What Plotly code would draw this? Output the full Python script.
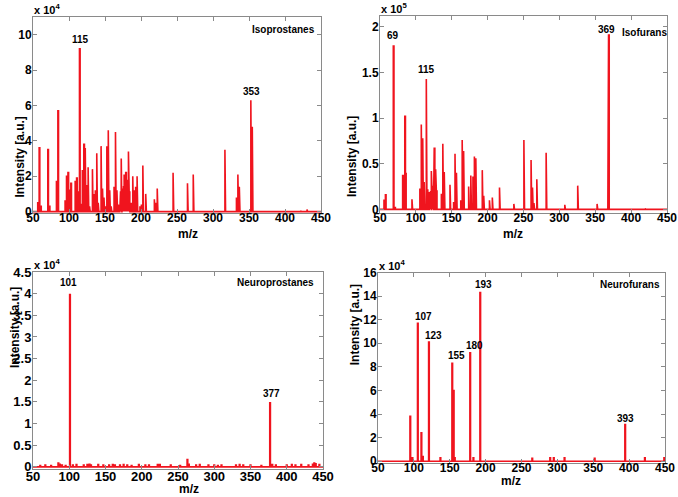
import plotly.graph_objects as go

# ---------------- data (intensities in units of the axis multiplier) ----------------
iso_p_mz = [57, 59, 61, 71, 73, 83, 85, 95, 97, 99, 101, 103, 109, 111, 113, 115, 117, 119, 121, 122,
            123, 125, 127, 129, 133, 135, 137, 139, 141, 145, 147, 149, 151, 153, 155, 157, 159, 163,
            165, 167, 169, 171, 172, 173, 174, 174.8, 175.5, 176.2, 177, 177.8, 178.5, 179.2, 180,
            180.8, 181.5, 182.2, 183, 184, 185, 187, 189, 191, 193, 195, 199, 201, 203, 207, 219, 221,
            223, 245, 265, 273, 317, 333, 335, 337, 353, 355, 422, 431]
iso_p_int = [0.5, 3.6, 0.3, 3.5, 0.3, 1.7, 5.7, 0.6, 2.0, 2.2, 1.2, 1.6, 1.7, 1.9, 1.1, 9.2, 0.4, 2.3,
             3.8, 1.4, 3.6, 1.5, 2.5, 0.3, 2.4, 1.0, 1.2, 3.3, 0.5, 3.7, 1.3, 0.8, 0.3, 3.7, 4.6, 1.2,
             0.3, 1.4, 4.5, 1.2, 0.4, 0.8, 1.1, 3.0, 1.3, 1.2, 1.3, 1.4, 2.1, 1.3, 1.2, 2.2, 1.4, 1.2,
             1.8, 1.0, 3.4, 1.1, 0.9, 0.5, 2.0, 1.2, 1.4, 2.0, 0.3, 0.4, 2.6, 1.0, 0.7, 0.5, 1.3, 2.2,
             1.6, 2.1, 3.5, 0.8, 2.1, 1.4, 6.3, 4.8, 0.05, 0.12]

iso_f_mz = [56, 58, 69, 71, 82, 85, 86, 95, 106, 108, 110, 112, 115, 117, 119, 120, 121, 122, 123, 124,
            125, 126, 127, 128, 129, 130, 136, 138, 140, 148, 153, 155, 157, 163, 165, 167, 174, 177,
            180, 182, 184, 193, 195, 203, 207, 217, 237, 251, 261, 263, 265, 269, 282, 308, 326, 353,
            368, 369, 420]
iso_f_int = [0.10, 0.16, 1.79, 0.02, 0.37, 1.02, 0.40, 0.11, 0.23, 0.93, 0.78, 0.30, 1.43, 0.22, 0.19,
             0.15, 0.20, 0.42, 0.20, 0.26, 0.10, 0.67, 0.25, 0.44, 0.20, 0.15, 0.17, 0.72, 0.41, 0.27,
             0.08, 0.61, 0.40, 0.10, 0.76, 0.64, 0.25, 0.37, 0.36, 0.58, 0.56, 0.43, 0.15, 0.10, 0.13,
             0.24, 0.06, 0.76, 0.54, 0.24, 0.07, 0.33, 0.62, 0.05, 0.26, 0.06, 1.47, 1.91, 0.01]

neuro_p_mz = [60, 67, 75, 85, 87, 90, 95, 101, 105, 110, 120, 125, 128, 130, 140, 147, 155, 160, 163,
              170, 175, 180, 186, 196, 205, 210, 222, 225, 240, 253, 263, 265, 275, 280, 292, 300, 305,
              310, 330, 335, 340, 350, 365, 377, 380, 385, 400, 407, 412, 420, 430, 436, 438, 440, 445]
neuro_p_int = [0.03, 0.04, 0.03, 0.09, 0.06, 0.04, 0.03, 3.98, 0.04, 0.05, 0.04, 0.05, 0.06, 0.04, 0.05,
               0.04, 0.04, 0.05, 0.04, 0.04, 0.05, 0.04, 0.03, 0.05, 0.04, 0.04, 0.05, 0.05, 0.04, 0.03,
               0.17, 0.06, 0.04, 0.05, 0.04, 0.04, 0.03, 0.04, 0.04, 0.05, 0.04, 0.04, 0.03, 1.48, 0.05,
               0.04, 0.04, 0.05, 0.04, 0.05, 0.04, 0.06, 0.09, 0.07, 0.05]

neuro_f_mz = [95, 98, 105.5, 110.5, 112.5, 121, 137, 153.5, 155.5, 157, 178.5, 183, 192.5, 265, 290,
              295, 310, 352, 394.5, 422, 449]
neuro_f_int = [3.8, 0.3, 11.7, 2.4, 0.4, 10.1, 0.3, 8.3, 6.0, 0.3, 9.2, 0.3, 14.3, 0.25, 0.3, 0.3,
               0.3, 0.25, 3.1, 0.3, 0.3]

# peak labels: (text, m/z, intensity) as placed in the picture
iso_p_labels = [("115", 115.5, 9.75), ("353", 353.5, 6.8)]
iso_f_labels = [("69", 67.5, 1.91), ("115", 114.5, 1.53), ("369", 365.5, 1.97)]
neuro_p_labels = [("101", 98.5, 4.26), ("377", 378.5, 1.70)]
neuro_f_labels = [("107", 113, 12.3), ("123", 128, 10.63), ("155", 159.5, 8.97),
                  ("180", 184, 9.8), ("193", 197.5, 15.0), ("393", 394.5, 3.6)]

panel_names = ["Isoprostanes", "Isofurans", "Neuroprostanes", "Neurofurans"]
exponents = ["4", "5", "4", "4"]
x_ticks = [50, 100, 150, 200, 250, 300, 350, 400, 450]
y_ticks = [[0, 2, 4, 6, 8, 10],
           [0, 0.5, 1, 1.5, 2],
           [0, 0.5, 1, 1.5, 2, 2.5, 3, 3.5, 4, 4.5],
           [0, 2, 4, 6, 8, 10, 12, 14, 16]]
y_tick_text = [[str(v) for v in t] for t in y_ticks]
y_ranges = [[-0.08, 11.0], [-0.04, 2.12], [-0.05, 4.5], [-0.15, 16.0]]

# ---------------- layout geometry (pixels of the 678x497 page) ----------------
W, H = 678, 497
boxes = [(33, 321, 17, 213), (380, 667, 16, 213), (33, 323, 272, 469), (378, 665, 272.5, 463)]
name_pos = [(398, 10.3), (418, 1.94), (385, 4.25), (401, 15.0)]
ytitle_x = [10, 352, 6, 355]
tick_size = [12, 12, 13, 12]
ytitle_size = [12, 12, 12, 12]
xlab_standoff = [-6, -6, -5, -6]
mz_top = [226, 226, 481, 473]          # top edge of the "m/z" title box

RED = "#f0141e"
FONT = "Liberation Sans"


def px(x):
    return x / W


def py(y):
    return (H - y) / H


def spikes(mz, inten, half=0.45):
    pairs = sorted(zip(mz, inten))
    xs, ys = [50], [0]
    for m, h in pairs:
        xs += [m - half, m - half, m + half, m + half]
        ys += [0, h, h, 0]
    xs.append(450)
    ys.append(0)
    return xs, ys


data = [(iso_p_mz, iso_p_int), (iso_f_mz, iso_f_int), (neuro_p_mz, neuro_p_int), (neuro_f_mz, neuro_f_int)]
labels = [iso_p_labels, iso_f_labels, neuro_p_labels, neuro_f_labels]

fig = go.Figure()
annotations = []
layout_axes = {}
for i, ((mz, inten), box) in enumerate(zip(data, boxes)):
    k = "" if i == 0 else str(i + 1)
    x0, x1, yt, yb = box
    xs, ys = spikes(mz, inten)
    fig.add_trace(go.Scatter(x=xs, y=ys, mode="lines", line=dict(color=RED, width=1.6),
                             xaxis="x" + k, yaxis="y" + k, showlegend=False, hoverinfo="skip"))
    axis_common = dict(showgrid=False, zeroline=False, showline=True, linecolor="#8a8a8a", linewidth=1,
                       mirror="ticks", ticks="inside", ticklen=4, tickcolor="#8a8a8a", automargin=False,
                       tickfont=dict(family=FONT, size=tick_size[i], color="black", weight="bold"))
    layout_axes["xaxis" + k] = dict(axis_common, domain=[px(x0), px(x1)], range=[50, 450],
                                    tickvals=x_ticks, ticktext=[str(v) for v in x_ticks],
                                    ticklabelstandoff=xlab_standoff[i], anchor="y" + k)
    layout_axes["yaxis" + k] = dict(axis_common, domain=[py(yb), py(yt)], range=y_ranges[i],
                                    tickvals=y_ticks[i], ticktext=y_tick_text[i],
                                    ticklabelstandoff=-2, anchor="x" + k)
    for txt, xm, ym in labels[i]:
        annotations.append(dict(x=xm, y=ym, xref="x" + k, yref="y" + k, text=txt, showarrow=False,
                                font=dict(family=FONT, size=10, color="black", weight="bold")))
    nx, ny = name_pos[i]
    annotations.append(dict(x=nx, y=ny, xref="x" + k, yref="y" + k, text=panel_names[i], showarrow=False,
                            font=dict(family=FONT, size=10, color="black", weight="bold")))
    # exponent label
    annotations.append(dict(x=px(x0 - 1), y=py(yt + 1), xref="paper", yref="paper",
                            xanchor="left", yanchor="bottom",
                            text="x 10<sup>" + exponents[i] + "</sup>", showarrow=False,
                            font=dict(family=FONT, size=11, color="black", weight="bold")))
    # axis titles
    annotations.append(dict(x=px((x0 + x1) / 2), y=py(mz_top[i]), xref="paper", yref="paper",
                            yanchor="top", text="m/z", showarrow=False, borderpad=0,
                            font=dict(family=FONT, size=12, color="black", weight="bold")))
    annotations.append(dict(x=px(ytitle_x[i]), y=py((yt + yb) / 2), xref="paper", yref="paper",
                            text="Intensity [a.u.]", showarrow=False, textangle=-90,
                            font=dict(family=FONT, size=ytitle_size[i], color="black", weight="bold")))

fig.update_layout(template="none", width=W, height=H,
                  margin=dict(l=0, r=0, t=0, b=0, autoexpand=False),
                  paper_bgcolor="white", plot_bgcolor="white", annotations=annotations, **layout_axes)

fig.write_html("out.html", config={"displayModeBar": False},
               post_script="document.body.style.margin='0px';")
